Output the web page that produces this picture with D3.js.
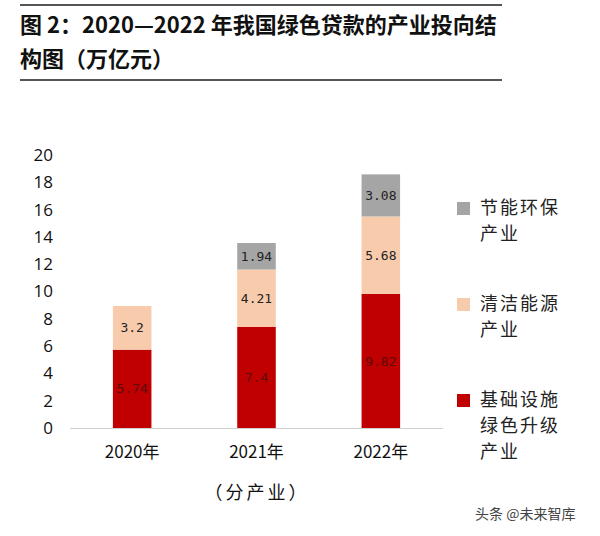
<!DOCTYPE html>
<html><head><meta charset="utf-8">
<script src="https://cdn.jsdelivr.net/npm/d3@7"></script>
<style>body{margin:0;background:#fff;} svg{display:block;}</style>
</head><body>
<script>
const categories = ["2020年", "2021年", "2022年"];
const seriesNames = ["基础设施绿色升级产业", "清洁能源产业", "节能环保产业"];
const infra = [5.74, 7.4, 9.82];
const clean = [3.2, 4.21, 5.68];
const saving = [null, 1.94, 3.08];
const yTicks = [0, 2, 4, 6, 8, 10, 12, 14, 16, 18, 20];
const legendLines = [["节能环保", "产业"], ["清洁能源", "产业"], ["基础设施", "绿色升级", "产业"]];
const colors = {"基础设施绿色升级产业": "#C00000", "清洁能源产业": "#F8CBAD", "节能环保产业": "#A5A5A5"};
const labelColors = {"基础设施绿色升级产业": "#5c0a0a", "清洁能源产业": "#222", "节能环保产业": "#222"};

const W = 600, H = 536;
const svg = d3.select("body").append("svg").attr("width", W).attr("height", H);
const cjk = "'Noto Sans CJK SC', sans-serif";

// rules
svg.append("line").attr("x1", 20).attr("x2", 502).attr("y1", 5).attr("y2", 5).attr("stroke", "#555").attr("stroke-width", 2);
svg.append("line").attr("x1", 20).attr("x2", 502).attr("y1", 80).attr("y2", 80).attr("stroke", "#555").attr("stroke-width", 2);
svg.append("text").attr("x", 20).attr("y", 33).attr("font-family", cjk).attr("font-weight", "bold").attr("font-size", 22).attr("fill", "#111")
  .text("图 2：2020—2022 年我国绿色贷款的产业投向结");
svg.append("text").attr("x", 20).attr("y", 67).attr("font-family", cjk).attr("font-weight", "bold").attr("font-size", 22).attr("fill", "#111")
  .text("构图（万亿元）");

const x = d3.scaleBand().domain(categories).range([70, 443]).paddingInner(0.69).paddingOuter(0.345);
const y = d3.scaleLinear().domain([0, 20]).range([428, 155]);

const rows = categories.map((c, i) => ({cat: c, "基础设施绿色升级产业": infra[i], "清洁能源产业": clean[i], "节能环保产业": saving[i] || 0}));
const stack = d3.stack().keys(seriesNames)(rows);

const g = svg.append("g");
stack.forEach(layer => {
  const key = layer.key;
  layer.forEach((d, i) => {
    const v = d.data[key];
    if (!v) return;
    g.append("rect").attr("x", x(d.data.cat)).attr("width", x.bandwidth())
      .attr("y", y(d[1])).attr("height", y(d[0]) - y(d[1])).attr("fill", colors[key]);
    g.append("text").attr("x", x(d.data.cat) + x.bandwidth() / 2).attr("y", (y(d[0]) + y(d[1])) / 2)
      .attr("dy", "0.35em").attr("text-anchor", "middle")
      .attr("font-family", "'DejaVu Sans Mono', monospace").attr("font-size", 13)
      .attr("fill", labelColors[key]).text(String(v));
  });
});

// axes
svg.append("line").attr("x1", 70).attr("x2", 443).attr("y1", 428.5).attr("y2", 428.5).attr("stroke", "#d0d0d0").attr("stroke-width", 1.2);
const yAxis = svg.append("g").attr("transform", "translate(58,0)")
  .call(d3.axisLeft(y).tickValues(yTicks).tickSize(0).tickPadding(5));
yAxis.select(".domain").remove();
yAxis.selectAll("text").attr("font-family", "'Open Sans', sans-serif").attr("font-size", 17).attr("fill", "#111");

const xAxis = svg.append("g").attr("transform", "translate(0,428)")
  .call(d3.axisBottom(x).tickSize(0).tickPadding(18));
xAxis.select(".domain").remove();
xAxis.selectAll("text").attr("font-family", cjk).attr("font-size", 17).attr("fill", "#111");

svg.append("text").attr("x", 257).attr("y", 499).attr("text-anchor", "middle").attr("font-family", cjk)
  .attr("font-size", 18).attr("letter-spacing", 3).attr("fill", "#111").text("（分产业）");

// legend
const legendKeys = ["节能环保产业", "清洁能源产业", "基础设施绿色升级产业"];
const legendY = [208, 304, 400];
legendKeys.forEach((k, i) => {
  svg.append("rect").attr("x", 457).attr("y", legendY[i] - 6).attr("width", 13).attr("height", 13).attr("fill", colors[k]);
  legendLines[i].forEach((t, j) => {
    svg.append("text").attr("x", 480).attr("y", legendY[i] + j * 26).attr("dy", "0.35em")
      .attr("font-family", cjk).attr("font-size", 18).attr("letter-spacing", 2).attr("fill", "#222").text(t);
  });
});

svg.append("text").attr("x", 475).attr("y", 519).attr("font-family", cjk).attr("font-size", 14).attr("fill", "#444").text("头条 @未来智库");
</script>
</body></html>
